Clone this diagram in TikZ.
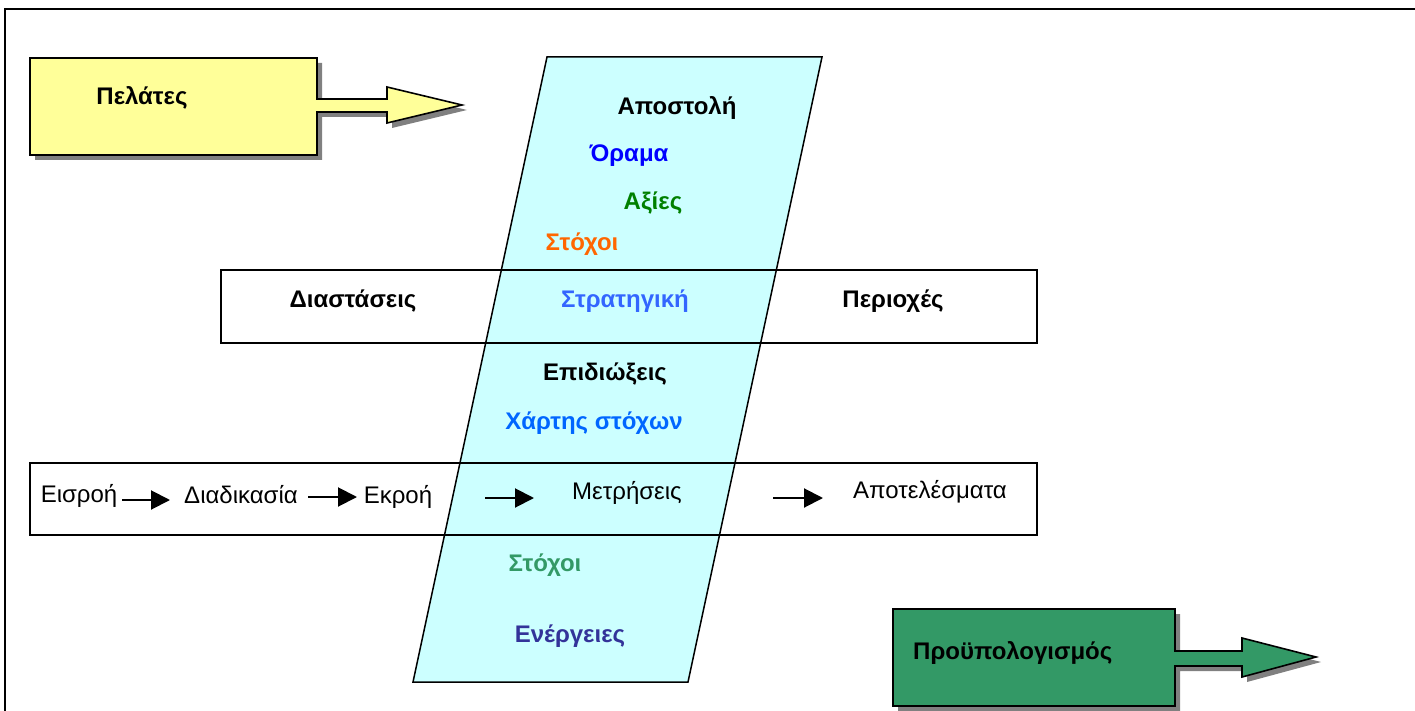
\documentclass[tikz,border=0pt]{standalone}
\usepackage{fontspec}
\setmainfont{Liberation Sans}
\usetikzlibrary{arrows.meta}
\definecolor{calloutyellow}{HTML}{FFFF99}
\definecolor{calloutgreen}{HTML}{339966}
\definecolor{bandcyan}{HTML}{CCFFFF}
\definecolor{shadowgray}{HTML}{808080}
\definecolor{visionblue}{HTML}{0000FF}
\definecolor{valuesgreen}{HTML}{008000}
\definecolor{goalorange}{HTML}{FF6600}
\definecolor{strategyblue}{HTML}{3366FF}
\definecolor{mapblue}{HTML}{0066FF}
\definecolor{targetgreen}{HTML}{339966}
\definecolor{actionindigo}{HTML}{333399}
\begin{document}
\begin{tikzpicture}[x=1pt,y=-1pt,
  boldlabel/.style={font=\fontsize{24}{28}\selectfont\bfseries, anchor=base, inner sep=0pt},
  plainlabel/.style={font=\fontsize{24}{28}\selectfont, anchor=base, inner sep=0pt},
  outline/.style={draw=black, line width=1.6pt, line join=miter},
  flow/.style={-{Triangle[length=19pt,width=19pt]}, line width=2pt},
]
\useasboundingbox (0,0) rectangle (1415,711);

% outer frame (left and top edges)
\draw[line width=2.2pt] (5,725) -- (5,9) -- (1425,9);

% customers callout with shadow
\fill[shadowgray, shift={(5,5)}]
  (30,58) -- (317,58) -- (317,99) -- (387,99) -- (387,87) -- (462,105)
  -- (387,123) -- (387,112) -- (317,112) -- (317,155) -- (30,155) -- cycle;
\draw[outline, fill=calloutyellow]
  (30,58) -- (317,58) -- (317,99) -- (387,99) -- (387,87) -- (462,105)
  -- (387,123) -- (387,112) -- (317,112) -- (317,155) -- (30,155) -- cycle;

% budget callout with shadow
\fill[shadowgray, shift={(5,5)}]
  (893,609) -- (1175,609) -- (1175,651) -- (1242,651) -- (1242,638) -- (1316,657)
  -- (1242,677) -- (1242,666) -- (1175,666) -- (1175,706) -- (893,706) -- cycle;
\draw[outline, fill=calloutgreen]
  (893,609) -- (1175,609) -- (1175,651) -- (1242,651) -- (1242,638) -- (1316,657)
  -- (1242,677) -- (1242,666) -- (1175,666) -- (1175,706) -- (893,706) -- cycle;

% slanted strategy band
\draw[line width=1.5pt, fill=bandcyan] (547,57) -- (822,57) -- (688,682) -- (413,682) -- cycle;

% horizontal bands drawn over it
\draw[line width=1.5pt] (221,270) rectangle (1037,343);
\draw[line width=1.5pt] (30,463) rectangle (1037,535);

% texts
\node[boldlabel] (customers) at (142,105) {Πελάτες};
\node[boldlabel, anchor=base west] (budget) at (913,659) {Προϋπολογισμός};
\node[boldlabel] (mission) at (677,115) {Αποστολή};
\node[boldlabel, text=visionblue] (vision) at (629,162) {Όραμα};
\node[boldlabel, text=valuesgreen] (values) at (653,210) {Αξίες};
\node[boldlabel, text=goalorange] (goals) at (582,251) {Στόχοι};
\node[boldlabel] (dimensions) at (353,307) {Διαστάσεις};
\node[boldlabel, text=strategyblue] (strategy) at (625,307) {Στρατηγική};
\node[boldlabel] (areas) at (893,307) {Περιοχές};
\node[boldlabel] (pursuits) at (605,380) {Επιδιώξεις};
\node[boldlabel, text=mapblue] (goalmap) at (594,429) {Χάρτης στόχων};
\node[boldlabel, text=targetgreen] (targets) at (545,571) {Στόχοι};
\node[boldlabel, text=actionindigo] (actions) at (570,642) {Ενέργειες};

\node[plainlabel] (input) at (79,502) {Εισροή};
\node[plainlabel] (process) at (241,503) {Διαδικασία};
\node[plainlabel] (output) at (398,503) {Εκροή};
\node[plainlabel] (measures) at (627,499) {Μετρήσεις};
\node[plainlabel] (results) at (930,498) {Αποτελέσματα};

% flow arrows
\coordinate (f1s) at (122,500); \coordinate (f1e) at (170,500);
\coordinate (f2s) at (308,497); \coordinate (f2e) at (357,497);
\coordinate (f3s) at (485,498); \coordinate (f3e) at (534,498);
\coordinate (f4s) at (773,498); \coordinate (f4e) at (823,498);
\draw[flow] (f1s) -- (f1e);
\draw[flow] (f2s) -- (f2e);
\draw[flow] (f3s) -- (f3e);
\draw[flow] (f4s) -- (f4e);
\end{tikzpicture}
\end{document}
